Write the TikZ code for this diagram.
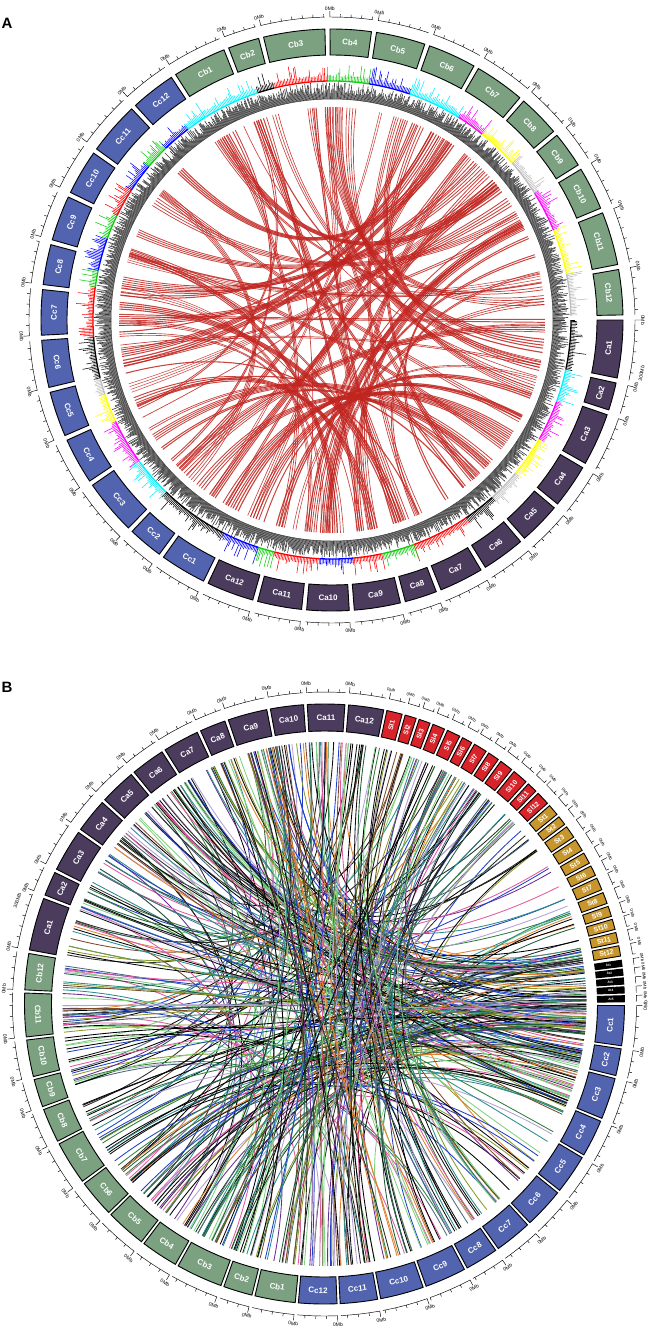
\documentclass[tikz,border=0pt]{standalone}
\usepackage{fontspec}
\setmainfont{Liberation Sans}
\definecolor{caPurple}{HTML}{4B3C5E}
\definecolor{cbGreen}{HTML}{7BA181}
\definecolor{ccBlue}{HTML}{5264B0}
\definecolor{slRed}{HTML}{D8232A}
\definecolor{stGold}{HTML}{C7962C}
\definecolor{linkRed}{HTML}{C0241F}
\definecolor{trCyan}{HTML}{00F0FF}
\definecolor{trRed}{HTML}{FF0000}
\definecolor{trGreen}{HTML}{10CC10}
\definecolor{trBlue}{HTML}{0000FF}
\definecolor{trMag}{HTML}{FF00FF}
\definecolor{trYel}{HTML}{FFFF00}
\definecolor{trGray}{HTML}{BDBDBD}
\definecolor{lk0}{HTML}{000000}
\definecolor{lk1}{HTML}{111111}
\definecolor{lk2}{HTML}{000000}
\definecolor{lk3}{HTML}{2A2A2A}
\definecolor{lk4}{HTML}{2F7D3A}
\definecolor{lk5}{HTML}{6A2C91}
\definecolor{lk6}{HTML}{2C8C8C}
\definecolor{lk7}{HTML}{7A4A2A}
\definecolor{lk8}{HTML}{7FD27F}
\definecolor{lk9}{HTML}{E05AA0}
\definecolor{lk10}{HTML}{2140C8}
\definecolor{lk11}{HTML}{B59FD6}
\definecolor{lk12}{HTML}{8A9A2A}
\definecolor{lk13}{HTML}{4A6A7A}
\definecolor{lk14}{HTML}{E08030}
\definecolor{lk15}{HTML}{1E5E3A}
\tikzset{
  ideo/.style={draw=black, line width=0.9pt},
  ideolabel/.style={text=white, font=\bfseries\fontsize{8}{8}\selectfont, inner sep=0pt},
  narrowlabel/.style={text=white, font=\bfseries\fontsize{6.8}{7}\selectfont, inner sep=0pt},
  tinylabel/.style={text=white, font=\bfseries\fontsize{3.2}{3.5}\selectfont, inner sep=0pt},
  mblabel/.style={font=\fontsize{5}{5}\selectfont, inner sep=0pt},
  smallmb/.style={font=\fontsize{4.2}{4.2}\selectfont, inner sep=0pt},
  scaleline/.style={line width=0.45pt},
  histbar/.style={gray!45!black, line width=0.6pt},
  redlink/.style={linkRed, opacity=0.85},
  colourlink/.style={line width=0.85pt},
  panellabel/.style={font=\bfseries\fontsize{15}{15}\selectfont, inner sep=0pt}
}
% one chromosome: start, end, fill, name, label style, t(angential) or r(adial) label, 0Mb style
\newcommand{\chrom}[7]{%
  \pgfmathsetmacro\segmid{(#1+#2)/2}%
  \pgfmathsetmacro\segang{mod(\segmid+720,360)}%
  \if#6t\pgfmathsetmacro\labrot{\segang<180 ? \segang-90 : \segang+90}%
  \else\pgfmathsetmacro\labrot{\segang}\fi
  \pgfmathsetmacro\tickang{mod(#1+720,360)}%
  \pgfmathsetmacro\tickrot{\tickang<180 ? \tickang-90 : \tickang+90}%
  \draw[ideo, fill=#3] (#1:\rin) arc[start angle=#1, end angle=#2, radius=\rin]
    -- (#2:\rout) arc[start angle=#2, end angle=#1, radius=\rout] -- cycle;
  \node[#5, rotate=\labrot] (\panel#4) at (\segmid:\rmid) {#4};
  \draw[scaleline] (#1:\rt+6pt) -- (#1:\rt) arc[start angle=#1, end angle=#2, radius=\rt];
  \pgfmathtruncatemacro\ntick{(#1-#2)/2}%
  \ifnum\ntick>0
    \foreach \k in {1,...,\ntick}{\draw[scaleline] (#1-2*\k:\rt) -- (#1-2*\k:\rt+3pt);}%
  \fi
  \node[#7, rotate=\tickrot] at (#1:\rlab) {0Mb};
}

\begin{document}
\begin{tikzpicture}[x=1pt, y=1pt]
  \useasboundingbox (0,0) rectangle (655,-1339);
  \node[panellabel] (labA) at (7,-23) {A};
  \node[panellabel] (labB) at (7,-687) {B};

  % panel A
  \begin{scope}[shift={(332,-320)}]
    \def\panel{A}\def\rin{265pt}\def\rout{291pt}\def\rmid{278pt}\def\rt{303pt}\def\rlab{311pt}
    \pgfmathsetseed{77}
    \draw[gray!60!black, line width=0.5pt] (0,0) circle[radius=221pt];
    \foreach \k in {0,...,1799}{
      \pgfmathsetmacro\ha{0.2*\k}
      \pgfmathsetmacro\hr{226+12*rnd}
      \draw[histbar] (\ha:221pt) -- (\ha:\hr pt);
    }
    \foreach \s/\e/\col in {122/108/trCyan, 108/104/black, 104/91/trRed, 91/81/trGreen,
        81/71/trBlue, 71/58/trCyan, 58/51/trMag, 51/41/trYel, 41/32/trGray, 32/22/trMag,
        22/11/trYel, 11/1/trGray, 0/-12/black, -12/-20/trCyan, -20/-30/trMag, -30/-40/trYel,
        -40/-48/trGray, -48/-56/black, -56/-70/trRed, -70/-78/trGreen, -78/-85/trRed,
        -85/-93/trBlue, -93/-104/trRed, -104/-108/trGreen, -108/-117/trBlue, -117/-134/black,
        -134/-144/trCyan, -144/-155/trMag, -155/-162/trYel, -162/-166/trGray, -166/-176/black,
        -176/-188/trRed, -188/-192/trGreen, -192/-200/trBlue, -200/-206/trGreen,
        -206/-213/trRed, -213/-220/trBlue, -220/-226/trGreen, -226/-233/trBlue, -233/-238/trCyan}{
      \draw[\col, line width=1.3pt] (\s:239pt) arc[start angle=\s, end angle=\e, radius=239pt];
      \pgfmathtruncatemacro\nt{(\s-\e)/0.35}
      \foreach \k in {0,...,\nt}{
        \pgfmathsetmacro\ta{\s-0.35*\k}
        \pgfmathsetmacro\tl{rnd<0.25 ? 8+10*rnd : 4+3*rnd}
        \draw[\col, line width=0.55pt] (\ta:239pt) -- (\ta:239pt+\tl pt);
      }
    }
    \foreach \k in {1,...,80}{
      \pgfmathsetmacro\ea{360*rnd}
      \pgfmathsetmacro\eb{\ea+80+200*rnd}
      \pgfmathtruncatemacro\nb{1+4*rnd}
      \pgfmathsetmacro\lw{0.5+0.7*rnd}
      \foreach \j in {1,...,\nb}{
        \draw[redlink, line width=\lw pt] (\ea+0.8*\j:213pt) .. controls (\ea+0.8*\j:71pt) and (\eb-0.6*\j:71pt) .. (\eb-0.6*\j:213pt);
      }
    }
    \foreach \nm/\s/\e in {Cb1/122.5/111.8, Cb2/110.8/104.6, Cb3/103.6/91.4, Cb4/90.4/82.2,
        Cb5/81.2/71.4, Cb6/70.4/60.8, Cb7/59.8/49.8, Cb8/48.8/40.4, Cb9/39.4/32.2,
        Cb10/31.2/22.6, Cb11/21.6/11.0, Cb12/10.0/1.0}{\chrom{\s}{\e}{cbGreen}{\nm}{ideolabel}{t}{mblabel}}
    \foreach \nm/\s/\e in {Ca1/0/-11.5, Ca2/-12.5/-18, Ca3/-19/-29.5, Ca4/-30.5/-39.2,
        Ca5/-40.2/-48.6, Ca6/-49.6/-58.2, Ca7/-59.2/-68, Ca8/-69/-75.4, Ca9/-76.4/-85.6,
        Ca10/-86.6/-95, Ca11/-96/-104.8, Ca12/-105.8/-115.2}{\chrom{\s}{\e}{caPurple}{\nm}{ideolabel}{t}{mblabel}}
    \foreach \nm/\s/\e in {Cc1/-116.2/-125.4, Cc2/-126.4/-133.4, Cc3/-134.4/-145.4,
        Cc4/-146.4/-155.6, Cc5/-156.6/-165.6, Cc6/-166.6/-176, Cc7/-177/-186, Cc8/-187/-195,
        Cc9/-196/-205, Cc10/-206/-215, Cc11/-216/-226.5, Cc12/-227.5/-236.5}{\chrom{\s}{\e}{ccBlue}{\nm}{ideolabel}{t}{mblabel}}
    \node[mblabel, rotate=80.2] (Amax) at (-9.8:\rlab+3pt) {300Mb};
  \end{scope}

  % panel B
  \begin{scope}[shift={(324.5,-1004)}]
    \def\panel{B}\def\rin{273pt}\def\rout{300pt}\def\rmid{286.5pt}\def\rt{312pt}\def\rlab{321pt}
    \pgfmathsetseed{2024}
    \foreach \k in {1,...,140}{
      \pgfmathsetmacro\ea{360*rnd}
      \pgfmathsetmacro\eb{\ea+70+220*rnd}
      \pgfmathtruncatemacro\ci{16*rnd}
      \draw[colourlink, color=lk\ci] (\ea:262pt) .. controls (\ea:87pt) and (\eb:87pt) .. (\eb:262pt);
    }
    \foreach \k in {1,...,140}{
      \pgfmathsetmacro\ea{-25+37*rnd}
      \pgfmathsetmacro\eb{95+160*rnd}
      \pgfmathtruncatemacro\ci{16*rnd}
      \draw[colourlink, color=lk\ci] (\ea:262pt) .. controls (\ea:87pt) and (\eb:87pt) .. (\eb:262pt);
    }
    \foreach \k in {1,...,90}{
      \pgfmathsetmacro\ea{40+75*rnd}
      \pgfmathsetmacro\eb{-125+80*rnd}
      \pgfmathtruncatemacro\ci{16*rnd}
      \draw[colourlink, color=lk\ci] (\ea:262pt) .. controls (\ea:87pt) and (\eb:87pt) .. (\eb:262pt);
    }
    \foreach \nm/\s/\e in {Ca1/169.6/159.4, Ca2/158.7/154.0, Ca3/153.3/145.1, Ca4/144.4/137.8,
        Ca5/137.1/130.1, Ca6/129.4/122.8, Ca7/122.1/115.1, Ca8/114.4/109.4, Ca9/108.7/101.1,
        Ca10/100.4/94.0, Ca11/93.3/86.1, Ca12/85.4/78.6}{\chrom{\s}{\e}{caPurple}{\nm}{ideolabel}{t}{mblabel}}
    \foreach \nm/\s/\e in {Sl1/78.0/75.0, Sl2/74.4/72.2, Sl3/71.6/69.4, Sl4/68.8/66.4,
        Sl5/65.8/63.2, Sl6/62.6/60.6, Sl7/60.0/57.4, Sl8/56.8/54.6, Sl9/54.0/51.4,
        Sl10/50.8/47.8, Sl11/47.2/45.2, Sl12/44.6/42.0}{\chrom{\s}{\e}{slRed}{\nm}{narrowlabel}{r}{smallmb}}
    \foreach \nm/\s/\e in {St1/41.4/39.2, St2/38.6/36.8, St3/36.2/33.8, St4/33.2/30.8,
        St5/30.2/28.0, St6/27.4/25.4, St7/24.8/22.4, St8/21.8/19.6, St9/19.0/17.0,
        St10/16.4/14.4, St11/13.8/11.8, St12/11.2/9.2}{\chrom{\s}{\e}{stGold}{\nm}{narrowlabel}{r}{smallmb}}
    \foreach \nm/\s/\e in {At1/8.4/7.2, At2/6.7/5.5, At3/5.0/3.8, At4/3.3/2.1,
        At5/1.6/0.4}{\chrom{\s}{\e}{black}{\nm}{tinylabel}{r}{smallmb}}
    \foreach \nm/\s/\e in {Cc1/-0.3/-8.0, Cc2/-8.6/-13.8, Cc3/-14.4/-22.4, Cc4/-23.0/-30.2,
        Cc5/-30.8/-38.4, Cc6/-39.0/-46.8, Cc7/-47.4/-54.6, Cc8/-55.2/-61.6, Cc9/-62.2/-70.2,
        Cc10/-70.8/-79.2, Cc11/-79.8/-87.0, Cc12/-87.6/-95.0}{\chrom{\s}{\e}{ccBlue}{\nm}{ideolabel}{t}{mblabel}}
    \foreach \nm/\s/\e in {Cb1/-95.6/-103.4, Cb2/-104.0/-109.6, Cb3/-110.2/-119.2,
        Cb4/-119.8/-127.0, Cb5/-127.6/-135.4, Cb6/-136.0/-143.2, Cb7/-143.8/-152.2,
        Cb8/-152.8/-159.4, Cb9/-160.0/-165.4, Cb10/-166.0/-173.1, Cb11/-173.7/-182.1,
        Cb12/-182.7/-189.7}{\chrom{\s}{\e}{cbGreen}{\nm}{ideolabel}{t}{mblabel}}
    \node[mblabel, rotate=71.4] (Bmax) at (161.4:\rlab+3pt) {300Mb};
  \end{scope}
\end{tikzpicture}
\end{document}
